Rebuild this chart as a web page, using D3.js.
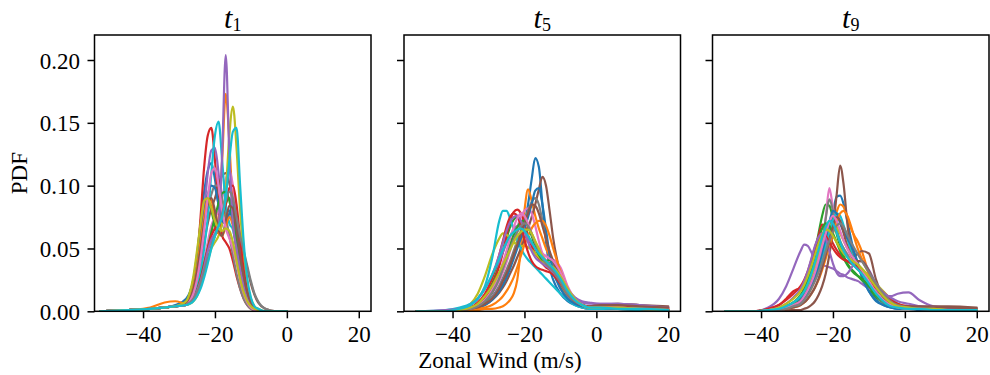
<!DOCTYPE html>
<html>
<head>
<meta charset="utf-8">
<script src="https://cdn.jsdelivr.net/npm/d3@7"></script>
<style>
  body { margin: 0; background: #fff; }
  svg { display: block; }
  text { font-family: "Liberation Serif", "Times New Roman", serif; fill: #000; }
</style>
</head>
<body>
<svg id="chart" width="990" height="375"></svg>
<script>
// Panel titles: time index shown as subscript of t
const panelSubs = ["1", "5", "9"];
const xTicks = [-40, -20, 0, 20];
const yTicks = [0, 0.05, 0.10, 0.15, 0.20];

// ---- t1: zonal-wind density estimates of each ensemble member ----
const gridT1 = [-52, -44, -38, -34, -31, -28, -27, -26, -25, -24, -23, -22, -21, -20, -19, -18, -17, -16, -15, -14, -13, -12, -11, -10, -9, -8, -6, -3, 0];
const pdfT1 = [
  [0, 0.001, 0.002, 0.003, 0.005, 0.01, 0.015, 0.025, 0.045, 0.07, 0.095, 0.112, 0.118, 0.105, 0.085, 0.075, 0.078, 0.08, 0.07, 0.05, 0.032, 0.018, 0.009, 0.004, 0.002, 0.001, 0, 0, 0],
  [0, 0.001, 0.002, 0.003, 0.004, 0.006, 0.008, 0.012, 0.02, 0.03, 0.04, 0.05, 0.055, 0.06, 0.075, 0.12, 0.173, 0.135, 0.08, 0.045, 0.025, 0.012, 0.006, 0.003, 0.001, 0, 0, 0, 0],
  [0, 0.001, 0.002, 0.003, 0.004, 0.008, 0.014, 0.025, 0.042, 0.062, 0.078, 0.085, 0.08, 0.068, 0.062, 0.07, 0.085, 0.09, 0.08, 0.06, 0.04, 0.024, 0.013, 0.006, 0.003, 0.001, 0, 0, 0],
  [0, 0.001, 0.002, 0.003, 0.004, 0.006, 0.01, 0.02, 0.04, 0.075, 0.115, 0.14, 0.146, 0.12, 0.085, 0.06, 0.055, 0.05, 0.04, 0.028, 0.018, 0.01, 0.005, 0.002, 0.001, 0, 0, 0, 0],
  [0, 0.001, 0.002, 0.003, 0.004, 0.006, 0.01, 0.018, 0.03, 0.05, 0.08, 0.11, 0.128, 0.13, 0.11, 0.08, 0.07, 0.075, 0.07, 0.05, 0.03, 0.016, 0.008, 0.004, 0.002, 0.001, 0, 0, 0],
  [0, 0.001, 0.002, 0.003, 0.004, 0.006, 0.01, 0.015, 0.025, 0.04, 0.055, 0.07, 0.082, 0.09, 0.1, 0.108, 0.11, 0.102, 0.088, 0.072, 0.058, 0.046, 0.034, 0.022, 0.013, 0.007, 0.002, 0, 0],
  [0, 0.001, 0.002, 0.003, 0.004, 0.005, 0.007, 0.01, 0.016, 0.026, 0.04, 0.055, 0.068, 0.075, 0.08, 0.09, 0.105, 0.112, 0.1, 0.075, 0.048, 0.028, 0.015, 0.007, 0.003, 0.001, 0, 0, 0],
  [0, 0.001, 0.002, 0.003, 0.004, 0.007, 0.012, 0.02, 0.033, 0.05, 0.068, 0.083, 0.093, 0.1, 0.1, 0.09, 0.075, 0.06, 0.045, 0.03, 0.018, 0.01, 0.005, 0.002, 0.001, 0, 0, 0, 0],
  [0, 0.001, 0.002, 0.003, 0.004, 0.005, 0.006, 0.008, 0.012, 0.02, 0.03, 0.04, 0.05, 0.055, 0.06, 0.07, 0.095, 0.14, 0.163, 0.13, 0.08, 0.045, 0.022, 0.01, 0.004, 0.002, 0, 0, 0],
  [0, 0.001, 0.002, 0.003, 0.004, 0.005, 0.008, 0.012, 0.02, 0.032, 0.05, 0.075, 0.11, 0.14, 0.151, 0.12, 0.085, 0.07, 0.065, 0.05, 0.032, 0.018, 0.009, 0.004, 0.002, 0.001, 0, 0, 0],
  [0, 0.001, 0.002, 0.003, 0.004, 0.007, 0.012, 0.022, 0.038, 0.058, 0.078, 0.093, 0.1, 0.098, 0.085, 0.072, 0.07, 0.078, 0.085, 0.07, 0.045, 0.025, 0.012, 0.005, 0.002, 0.001, 0, 0, 0],
  [0, 0.001, 0.003, 0.007, 0.008, 0.006, 0.01, 0.02, 0.035, 0.055, 0.075, 0.09, 0.088, 0.075, 0.062, 0.06, 0.068, 0.075, 0.068, 0.052, 0.034, 0.02, 0.01, 0.005, 0.002, 0.001, 0, 0, 0],
  [0, 0.001, 0.002, 0.003, 0.004, 0.005, 0.007, 0.011, 0.017, 0.026, 0.038, 0.05, 0.063, 0.075, 0.086, 0.094, 0.095, 0.088, 0.073, 0.055, 0.036, 0.02, 0.01, 0.004, 0.002, 0.001, 0, 0, 0],
  [0, 0.001, 0.002, 0.003, 0.004, 0.005, 0.007, 0.01, 0.016, 0.025, 0.037, 0.05, 0.06, 0.066, 0.07, 0.075, 0.085, 0.098, 0.1, 0.085, 0.058, 0.033, 0.016, 0.007, 0.003, 0.001, 0, 0, 0],
  [0, 0.001, 0.002, 0.003, 0.004, 0.005, 0.007, 0.01, 0.016, 0.024, 0.035, 0.048, 0.057, 0.062, 0.068, 0.125, 0.204, 0.125, 0.07, 0.05, 0.034, 0.02, 0.01, 0.005, 0.002, 0.001, 0, 0, 0],
  [0, 0.001, 0.002, 0.003, 0.004, 0.006, 0.01, 0.018, 0.032, 0.05, 0.07, 0.085, 0.09, 0.08, 0.065, 0.06, 0.072, 0.084, 0.082, 0.065, 0.045, 0.028, 0.015, 0.007, 0.003, 0.001, 0, 0, 0],
  [0, 0.001, 0.002, 0.003, 0.004, 0.005, 0.008, 0.014, 0.025, 0.042, 0.065, 0.09, 0.11, 0.114, 0.1, 0.08, 0.066, 0.058, 0.05, 0.038, 0.025, 0.014, 0.007, 0.003, 0.001, 0, 0, 0, 0],
  [0, 0.001, 0.002, 0.003, 0.004, 0.005, 0.007, 0.01, 0.015, 0.022, 0.032, 0.042, 0.052, 0.06, 0.068, 0.078, 0.088, 0.095, 0.09, 0.075, 0.06, 0.048, 0.036, 0.024, 0.014, 0.008, 0.002, 0, 0],
  [0, 0.001, 0.002, 0.003, 0.004, 0.008, 0.015, 0.028, 0.048, 0.07, 0.088, 0.09, 0.082, 0.072, 0.066, 0.064, 0.066, 0.064, 0.055, 0.04, 0.026, 0.015, 0.008, 0.004, 0.002, 0.001, 0, 0, 0],
  [0, 0.001, 0.002, 0.003, 0.004, 0.005, 0.006, 0.008, 0.012, 0.018, 0.027, 0.038, 0.05, 0.06, 0.068, 0.075, 0.09, 0.12, 0.143, 0.146, 0.1, 0.055, 0.026, 0.011, 0.004, 0.002, 0, 0, 0]
];

// ---- t5 ----
const gridT5 = [-50, -42, -38, -35, -33, -31, -29, -27, -26, -25, -24, -23, -22, -21, -20, -19, -18, -17, -16, -15, -14, -13, -12, -10, -8, -6, -4, -2, 1, 6, 12, 20];
const pdfT5 = [
  [0, 0, 0.001, 0.002, 0.004, 0.007, 0.012, 0.02, 0.026, 0.032, 0.038, 0.045, 0.052, 0.06, 0.07, 0.085, 0.105, 0.122, 0.115, 0.085, 0.055, 0.035, 0.025, 0.014, 0.008, 0.005, 0.003, 0.002, 0.002, 0.002, 0.001, 0.001],
  [0, 0, 0, 0.001, 0.001, 0.002, 0.002, 0.003, 0.004, 0.006, 0.009, 0.014, 0.025, 0.05, 0.08, 0.097, 0.088, 0.076, 0.066, 0.058, 0.05, 0.044, 0.038, 0.026, 0.015, 0.008, 0.004, 0.003, 0.003, 0.003, 0.002, 0.002],
  [0, 0, 0.001, 0.003, 0.006, 0.012, 0.022, 0.038, 0.048, 0.058, 0.067, 0.073, 0.075, 0.072, 0.066, 0.06, 0.055, 0.05, 0.045, 0.042, 0.04, 0.036, 0.03, 0.02, 0.012, 0.007, 0.004, 0.003, 0.003, 0.002, 0.002, 0.001],
  [0, 0, 0.001, 0.003, 0.006, 0.011, 0.02, 0.036, 0.047, 0.06, 0.072, 0.079, 0.081, 0.078, 0.07, 0.06, 0.052, 0.046, 0.042, 0.038, 0.035, 0.033, 0.03, 0.021, 0.013, 0.008, 0.005, 0.004, 0.004, 0.004, 0.003, 0.002],
  [0, 0, 0.002, 0.005, 0.01, 0.018, 0.028, 0.04, 0.047, 0.054, 0.06, 0.065, 0.068, 0.067, 0.063, 0.058, 0.054, 0.05, 0.046, 0.042, 0.038, 0.035, 0.032, 0.026, 0.018, 0.011, 0.007, 0.006, 0.006, 0.006, 0.004, 0.003],
  [0, 0, 0.001, 0.002, 0.003, 0.005, 0.009, 0.015, 0.019, 0.024, 0.03, 0.036, 0.043, 0.05, 0.058, 0.066, 0.075, 0.085, 0.097, 0.107, 0.1, 0.08, 0.058, 0.03, 0.015, 0.008, 0.005, 0.004, 0.005, 0.006, 0.005, 0.004],
  [0, 0, 0.001, 0.002, 0.004, 0.008, 0.014, 0.024, 0.031, 0.039, 0.048, 0.058, 0.067, 0.075, 0.08, 0.082, 0.078, 0.068, 0.056, 0.046, 0.041, 0.04, 0.041, 0.035, 0.02, 0.01, 0.005, 0.003, 0.003, 0.003, 0.002, 0.001],
  [0, 0, 0.001, 0.002, 0.003, 0.006, 0.011, 0.02, 0.026, 0.033, 0.04, 0.048, 0.056, 0.064, 0.072, 0.08, 0.087, 0.09, 0.085, 0.072, 0.058, 0.046, 0.036, 0.022, 0.012, 0.006, 0.003, 0.002, 0.002, 0.002, 0.001, 0.001],
  [0, 0, 0.002, 0.006, 0.014, 0.028, 0.045, 0.058, 0.062, 0.061, 0.058, 0.055, 0.053, 0.052, 0.052, 0.051, 0.049, 0.046, 0.043, 0.04, 0.037, 0.034, 0.03, 0.022, 0.014, 0.008, 0.005, 0.003, 0.003, 0.003, 0.002, 0.001],
  [0, 0.001, 0.003, 0.006, 0.01, 0.02, 0.042, 0.072, 0.08, 0.08, 0.074, 0.065, 0.057, 0.05, 0.045, 0.041, 0.038, 0.035, 0.032, 0.029, 0.026, 0.023, 0.02, 0.014, 0.009, 0.005, 0.003, 0.002, 0.002, 0.002, 0.001, 0.001],
  [0, 0, 0.001, 0.002, 0.003, 0.005, 0.009, 0.016, 0.021, 0.027, 0.034, 0.042, 0.05, 0.058, 0.066, 0.075, 0.085, 0.096, 0.098, 0.085, 0.065, 0.045, 0.032, 0.018, 0.01, 0.006, 0.004, 0.003, 0.003, 0.002, 0.002, 0.001],
  [0, 0, 0, 0.001, 0.002, 0.003, 0.005, 0.009, 0.012, 0.016, 0.021, 0.027, 0.035, 0.044, 0.053, 0.06, 0.066, 0.07, 0.072, 0.072, 0.068, 0.06, 0.05, 0.032, 0.018, 0.009, 0.005, 0.004, 0.004, 0.003, 0.002, 0.002],
  [0, 0, 0.001, 0.002, 0.004, 0.008, 0.015, 0.027, 0.035, 0.044, 0.053, 0.061, 0.067, 0.071, 0.072, 0.068, 0.06, 0.052, 0.045, 0.041, 0.04, 0.041, 0.04, 0.03, 0.017, 0.009, 0.005, 0.003, 0.003, 0.003, 0.002, 0.001],
  [0, 0, 0.001, 0.003, 0.007, 0.014, 0.026, 0.045, 0.056, 0.067, 0.075, 0.078, 0.076, 0.068, 0.057, 0.047, 0.04, 0.036, 0.034, 0.033, 0.032, 0.031, 0.029, 0.022, 0.014, 0.008, 0.005, 0.003, 0.003, 0.003, 0.002, 0.001],
  [0, 0.001, 0.002, 0.005, 0.01, 0.018, 0.029, 0.045, 0.055, 0.064, 0.071, 0.075, 0.076, 0.072, 0.064, 0.055, 0.048, 0.043, 0.04, 0.038, 0.036, 0.034, 0.031, 0.024, 0.017, 0.011, 0.008, 0.007, 0.006, 0.006, 0.005, 0.003],
  [0, 0, 0.001, 0.002, 0.003, 0.006, 0.01, 0.018, 0.024, 0.03, 0.037, 0.045, 0.053, 0.062, 0.07, 0.078, 0.085, 0.084, 0.078, 0.068, 0.058, 0.048, 0.04, 0.026, 0.014, 0.008, 0.005, 0.004, 0.005, 0.005, 0.004, 0.003],
  [0, 0, 0.001, 0.002, 0.005, 0.009, 0.017, 0.03, 0.039, 0.048, 0.058, 0.067, 0.074, 0.078, 0.076, 0.07, 0.062, 0.055, 0.05, 0.046, 0.044, 0.042, 0.04, 0.031, 0.018, 0.009, 0.005, 0.003, 0.003, 0.003, 0.002, 0.001],
  [0, 0, 0.001, 0.002, 0.004, 0.008, 0.015, 0.026, 0.034, 0.042, 0.05, 0.057, 0.063, 0.068, 0.07, 0.068, 0.062, 0.055, 0.048, 0.042, 0.038, 0.035, 0.032, 0.023, 0.014, 0.008, 0.005, 0.003, 0.003, 0.002, 0.002, 0.001],
  [0, 0, 0.001, 0.003, 0.006, 0.012, 0.02, 0.031, 0.037, 0.043, 0.049, 0.055, 0.06, 0.063, 0.065, 0.065, 0.062, 0.056, 0.05, 0.044, 0.04, 0.037, 0.035, 0.028, 0.018, 0.01, 0.005, 0.003, 0.003, 0.003, 0.002, 0.001],
  [0, 0, 0.002, 0.005, 0.01, 0.018, 0.029, 0.042, 0.049, 0.055, 0.06, 0.063, 0.065, 0.066, 0.064, 0.06, 0.055, 0.05, 0.046, 0.043, 0.04, 0.037, 0.034, 0.026, 0.016, 0.009, 0.005, 0.003, 0.003, 0.002, 0.002, 0.001]
];

// ---- t9 ----
const gridT9 = [-50, -42, -38, -35, -33, -31, -29, -28, -27, -26, -25, -24, -23, -22, -21, -20, -19, -18, -17, -16, -15, -14, -13, -12, -10, -8, -6, -4, -2, 1, 4, 8, 12, 20];
const pdfT9 = [
  [0, 0, 0.001, 0.002, 0.003, 0.005, 0.01, 0.014, 0.019, 0.025, 0.032, 0.04, 0.048, 0.057, 0.067, 0.078, 0.091, 0.092, 0.085, 0.072, 0.058, 0.046, 0.036, 0.028, 0.016, 0.008, 0.005, 0.003, 0.002, 0.002, 0.002, 0.001, 0.001, 0.001],
  [0, 0, 0.001, 0.002, 0.003, 0.005, 0.008, 0.011, 0.015, 0.02, 0.026, 0.033, 0.041, 0.05, 0.06, 0.07, 0.079, 0.085, 0.083, 0.075, 0.066, 0.06, 0.055, 0.048, 0.03, 0.016, 0.008, 0.004, 0.003, 0.002, 0.002, 0.002, 0.001, 0.001],
  [0, 0, 0.001, 0.002, 0.004, 0.007, 0.013, 0.018, 0.026, 0.036, 0.048, 0.062, 0.076, 0.085, 0.084, 0.074, 0.062, 0.052, 0.044, 0.038, 0.034, 0.031, 0.028, 0.025, 0.018, 0.011, 0.007, 0.004, 0.003, 0.002, 0.002, 0.001, 0.001, 0.001],
  [0, 0, 0.002, 0.005, 0.01, 0.016, 0.018, 0.017, 0.022, 0.032, 0.046, 0.06, 0.069, 0.066, 0.06, 0.054, 0.049, 0.045, 0.042, 0.04, 0.038, 0.036, 0.034, 0.032, 0.026, 0.018, 0.012, 0.008, 0.005, 0.003, 0.002, 0.002, 0.001, 0.001],
  [0, 0, 0.003, 0.01, 0.02, 0.034, 0.048, 0.053, 0.052, 0.047, 0.042, 0.039, 0.037, 0.036, 0.035, 0.034, 0.032, 0.03, 0.029, 0.027, 0.026, 0.025, 0.024, 0.022, 0.018, 0.017, 0.013, 0.012, 0.014, 0.015, 0.009, 0.004, 0.003, 0.002],
  [0, 0, 0, 0, 0.001, 0.001, 0.001, 0.002, 0.003, 0.005, 0.008, 0.013, 0.02, 0.03, 0.045, 0.065, 0.092, 0.116, 0.1, 0.07, 0.05, 0.044, 0.046, 0.048, 0.046, 0.025, 0.012, 0.006, 0.004, 0.004, 0.004, 0.004, 0.004, 0.003],
  [0, 0, 0, 0.001, 0.002, 0.004, 0.007, 0.01, 0.014, 0.02, 0.028, 0.038, 0.052, 0.075, 0.098, 0.082, 0.065, 0.055, 0.05, 0.046, 0.042, 0.038, 0.034, 0.03, 0.022, 0.014, 0.008, 0.004, 0.003, 0.002, 0.002, 0.001, 0.001, 0.001],
  [0, 0, 0, 0.001, 0.002, 0.004, 0.007, 0.01, 0.014, 0.02, 0.028, 0.039, 0.054, 0.074, 0.089, 0.08, 0.066, 0.056, 0.05, 0.045, 0.04, 0.036, 0.033, 0.03, 0.022, 0.013, 0.007, 0.004, 0.003, 0.002, 0.002, 0.001, 0.001, 0.001],
  [0, 0, 0.001, 0.002, 0.004, 0.007, 0.012, 0.016, 0.021, 0.028, 0.036, 0.045, 0.054, 0.062, 0.068, 0.07, 0.067, 0.062, 0.056, 0.05, 0.045, 0.04, 0.037, 0.034, 0.028, 0.022, 0.016, 0.01, 0.006, 0.003, 0.002, 0.002, 0.001, 0.001],
  [0, 0, 0, 0.001, 0.002, 0.004, 0.007, 0.01, 0.014, 0.019, 0.026, 0.034, 0.043, 0.053, 0.063, 0.072, 0.078, 0.076, 0.068, 0.058, 0.048, 0.04, 0.034, 0.03, 0.022, 0.014, 0.008, 0.004, 0.003, 0.002, 0.002, 0.001, 0.001, 0.001],
  [0, 0, 0, 0.001, 0.002, 0.004, 0.007, 0.01, 0.014, 0.02, 0.027, 0.036, 0.047, 0.059, 0.071, 0.08, 0.078, 0.07, 0.063, 0.058, 0.053, 0.046, 0.038, 0.028, 0.016, 0.009, 0.005, 0.003, 0.002, 0.002, 0.001, 0.001, 0.001, 0.001],
  [0, 0, 0, 0.001, 0.002, 0.003, 0.005, 0.007, 0.01, 0.014, 0.019, 0.025, 0.033, 0.042, 0.052, 0.062, 0.071, 0.078, 0.08, 0.076, 0.068, 0.058, 0.049, 0.042, 0.03, 0.02, 0.012, 0.007, 0.004, 0.003, 0.002, 0.002, 0.001, 0.001],
  [0, 0, 0.001, 0.002, 0.004, 0.007, 0.012, 0.017, 0.024, 0.033, 0.044, 0.056, 0.066, 0.07, 0.068, 0.062, 0.055, 0.048, 0.042, 0.037, 0.033, 0.03, 0.028, 0.026, 0.02, 0.013, 0.008, 0.005, 0.003, 0.002, 0.002, 0.001, 0.001, 0.001],
  [0, 0, 0.002, 0.005, 0.009, 0.014, 0.02, 0.025, 0.032, 0.041, 0.051, 0.059, 0.062, 0.06, 0.055, 0.05, 0.046, 0.043, 0.041, 0.04, 0.039, 0.037, 0.035, 0.032, 0.026, 0.02, 0.015, 0.01, 0.006, 0.004, 0.003, 0.002, 0.001, 0.001],
  [0, 0, 0.001, 0.003, 0.006, 0.011, 0.018, 0.024, 0.032, 0.042, 0.052, 0.059, 0.062, 0.058, 0.048, 0.038, 0.031, 0.028, 0.028, 0.03, 0.034, 0.038, 0.04, 0.04, 0.033, 0.022, 0.015, 0.011, 0.008, 0.006, 0.004, 0.003, 0.002, 0.001],
  [0, 0, 0, 0.001, 0.002, 0.003, 0.005, 0.007, 0.01, 0.014, 0.019, 0.026, 0.035, 0.045, 0.056, 0.067, 0.075, 0.072, 0.062, 0.052, 0.045, 0.041, 0.04, 0.04, 0.032, 0.02, 0.011, 0.006, 0.004, 0.004, 0.004, 0.003, 0.003, 0.002],
  [0, 0, 0, 0.001, 0.003, 0.005, 0.008, 0.012, 0.017, 0.023, 0.031, 0.041, 0.052, 0.062, 0.071, 0.076, 0.072, 0.064, 0.056, 0.05, 0.045, 0.041, 0.037, 0.033, 0.024, 0.015, 0.009, 0.005, 0.003, 0.002, 0.002, 0.001, 0.001, 0.001],
  [0, 0, 0, 0.001, 0.002, 0.004, 0.006, 0.009, 0.013, 0.018, 0.024, 0.031, 0.039, 0.048, 0.056, 0.063, 0.068, 0.07, 0.067, 0.061, 0.055, 0.05, 0.045, 0.04, 0.031, 0.022, 0.014, 0.008, 0.005, 0.003, 0.002, 0.002, 0.001, 0.001],
  [0, 0, 0.001, 0.003, 0.006, 0.01, 0.016, 0.021, 0.028, 0.036, 0.045, 0.054, 0.061, 0.065, 0.064, 0.06, 0.055, 0.05, 0.046, 0.043, 0.041, 0.039, 0.037, 0.034, 0.027, 0.019, 0.012, 0.007, 0.004, 0.003, 0.002, 0.002, 0.001, 0.001],
  [0, 0, 0.001, 0.002, 0.004, 0.007, 0.012, 0.016, 0.022, 0.03, 0.039, 0.049, 0.059, 0.067, 0.072, 0.07, 0.063, 0.055, 0.048, 0.043, 0.039, 0.036, 0.033, 0.03, 0.022, 0.014, 0.008, 0.004, 0.003, 0.002, 0.002, 0.001, 0.001, 0.001]
];

const panels = [
  { sub: panelSubs[0], grid: gridT1, curves: pdfT1 },
  { sub: panelSubs[1], grid: gridT5, curves: pdfT5 },
  { sub: panelSubs[2], grid: gridT9, curves: pdfT9 }
];

// ---- layout ----
const svg = d3.select("#chart");
const panelLeft = [94.5, 404, 712.5];
const panelW = 276.5;
const plotTop = 35, plotBottom = 311.3;
const fontSize = 23;

const y = d3.scaleLinear().domain([0, 0.2199]).range([plotBottom, plotTop]);
const palette = d3.schemeCategory10;
const minus = d => (d < 0 ? "\u2212" + Math.abs(d) : String(d));

panels.forEach((p, k) => {
  const x = d3.scaleLinear().domain([-53.5, 23.4]).range([0, panelW]);
  const g = svg.append("g").attr("transform", `translate(${panelLeft[k]},0)`);

  const clipId = "clip" + k;
  g.append("clipPath").attr("id", clipId)
    .append("rect").attr("x", 0).attr("y", plotTop).attr("width", panelW).attr("height", plotBottom - plotTop);

  const line = d3.line()
    .x(d => x(d[0]))
    .y(d => y(d[1]))
    .curve(d3.curveMonotoneX);

  const lines = g.append("g").attr("clip-path", `url(#${clipId})`);
  p.curves.forEach((vals, i) => {
    lines.append("path")
      .datum(p.grid.map((gx, j) => [gx, vals[j]]))
      .attr("d", line)
      .attr("fill", "none")
      .attr("stroke", palette[i % 10])
      .attr("stroke-width", 2.2)
      .attr("stroke-linejoin", "round")
      .attr("stroke-linecap", "round");
  });

  // x axis
  const xa = g.append("g").attr("transform", `translate(0,${plotBottom})`)
    .call(d3.axisBottom(x).tickValues(xTicks).tickSize(7).tickFormat(minus));
  xa.select(".domain").remove();
  xa.selectAll(".tick line").attr("stroke", "#000").attr("stroke-width", 1.5);
  xa.selectAll(".tick text").attr("y", 30.7).attr("dy", null)
    .attr("font-size", fontSize).attr("font-family", null);

  // y axis (labels only on the first panel)
  const ya = g.append("g")
    .call(d3.axisLeft(y).tickValues(yTicks).tickSize(7)
      .tickFormat(k === 0 ? d3.format(".2f") : () => ""));
  ya.select(".domain").remove();
  ya.selectAll(".tick line").attr("stroke", "#000").attr("stroke-width", 1.5);
  ya.selectAll(".tick text").attr("x", -14.5).attr("dy", "0.35em")
    .attr("font-size", fontSize).attr("font-family", null);

  // frame
  g.append("rect")
    .attr("x", 0).attr("y", plotTop)
    .attr("width", panelW).attr("height", plotBottom - plotTop)
    .attr("fill", "none").attr("stroke", "#000").attr("stroke-width", 1.5);

  // title t_k
  const title = g.append("text")
    .attr("x", panelW / 2).attr("y", 28)
    .attr("text-anchor", "middle");
  title.append("tspan").attr("font-style", "italic").attr("font-size", 30).text("t");
  title.append("tspan").attr("font-size", 18).attr("dy", 3).text(p.sub);
});

// shared axis labels
svg.append("text")
  .attr("transform", `translate(26.5,${(plotTop + plotBottom) / 2}) rotate(-90)`)
  .attr("text-anchor", "middle")
  .attr("font-size", fontSize)
  .text("PDF");

svg.append("text")
  .attr("x", 500).attr("y", 368)
  .attr("text-anchor", "middle")
  .attr("font-size", 23)
  .text("Zonal Wind (m/s)");
</script>
</body>
</html>
